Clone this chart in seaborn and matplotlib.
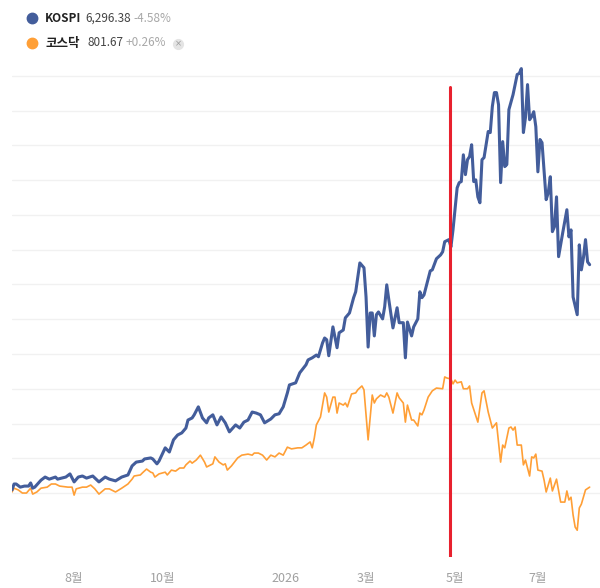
import pandas as pd
import matplotlib
matplotlib.use('Agg')
import matplotlib.pyplot as plt
import seaborn as sns

# trading-session index (0 = mid June 2025) and % change from the first session
kospi_session = [0, 1, 2, 4, 6, 8, 9, 10, 11, 14, 16, 18, 21, 22, 26, 28, 30, 32, 34, 36,
                 39, 42, 45, 47, 50, 53, 56, 58, 60, 63, 64, 67, 68, 70, 71, 74, 76, 78, 80, 82,
                 84, 85, 87, 88, 90, 92, 94, 95, 97, 99, 101, 103, 105, 108, 110, 112, 114, 116, 118, 120,
                 122, 125, 127, 129, 131, 133, 134, 137, 139, 142, 143, 145, 147, 148, 150, 151, 152, 153, 155, 157,
                 158, 160, 161, 163, 165, 166, 168, 170, 171, 172, 173, 174, 175, 176, 177, 179, 180, 181, 182, 184,
                 186, 187, 189, 190, 191, 193, 194, 196, 197, 198, 199, 200, 202, 203, 205, 207, 208, 209, 211, 212,
                 213, 215, 216, 217, 218, 219, 220, 221, 222, 223, 224, 225, 226, 227, 228, 230, 231, 232, 233, 234,
                 235, 236, 237, 238, 239, 240, 242, 244, 245, 246, 247, 248, 249, 250, 251, 252, 253, 254, 255, 256,
                 258, 259, 260, 261, 262, 263, 264, 266, 268, 269, 270, 271, 273, 274, 275, 276, 277, 278, 279]
kospi_change = [0.9, 2.6, 2.6, 1.7, 2.0, 2.0, 2.9, 1.4, 1.7, 3.7, 4.6, 4.0, 4.6, 4.0, 4.6, 5.5, 3.2, 4.6, 4.9, 4.3,
                4.9, 3.2, 4.6, 4.0, 3.5, 4.6, 5.2, 7.8, 8.9, 9.2, 9.8, 10.1, 9.8, 8.4, 9.2, 13.0, 11.8, 15.3, 16.7, 17.3,
                18.7, 21.0, 21.6, 22.5, 24.8, 21.6, 20.2, 21.6, 22.5, 19.6, 21.9, 20.2, 17.6, 19.6, 18.7, 20.4, 21.0, 23.3, 23.0, 22.5,
                20.2, 21.3, 22.5, 22.8, 24.8, 28.8, 31.1, 31.7, 34.6, 36.9, 38.3, 38.9, 39.7, 39.2, 43.2, 44.6, 44.1, 39.5, 47.8, 41.8,
                46.1, 46.9, 50.4, 51.8, 56.2, 57.9, 66.2, 64.8, 56.4, 42.0, 51.8, 51.8, 45.2, 51.3, 52.1, 50.1, 53.6, 59.9, 55.6, 47.5,
                53.3, 49.0, 49.0, 38.9, 49.2, 45.2, 47.8, 50.1, 57.9, 56.2, 57.0, 59.3, 63.9, 64.2, 67.4, 68.5, 69.4, 72.3, 72.9, 70.8,
                75.7, 87.8, 89.3, 89.6, 97.3, 91.6, 95.9, 96.8, 100.2, 89.6, 90.1, 85.2, 83.5, 95.9, 96.5, 104.0, 103.7, 111.2, 115.2, 115.2,
                111.7, 89.3, 101.1, 93.9, 94.5, 110.3, 114.6, 120.4, 120.7, 122.1, 103.7, 108.0, 117.5, 107.4, 108.3, 109.7, 105.4, 92.4, 101.7, 100.8,
                84.4, 86.4, 91.0, 75.2, 76.6, 85.2, 68.0, 74.9, 81.5, 73.7, 75.7, 56.4, 51.3, 71.4, 64.2, 67.7, 72.9, 66.5, 65.7]

kosdaq_session = [0, 1, 3, 5, 7, 9, 10, 12, 14, 17, 19, 21, 23, 27, 29, 30, 31, 34, 36, 38,
                  40, 42, 45, 47, 50, 53, 56, 58, 59, 62, 63, 65, 67, 68, 69, 71, 74, 75, 77, 79,
                  81, 83, 84, 86, 87, 89, 91, 93, 94, 97, 98, 100, 102, 103, 104, 106, 109, 111, 114, 116,
                  117, 119, 121, 123, 125, 127, 129, 131, 133, 135, 138, 140, 142, 144, 145, 146, 147, 149, 151, 152,
                  153, 155, 156, 157, 158, 160, 161, 162, 164, 166, 167, 169, 170, 172, 173, 174, 175, 176, 178, 180,
                  181, 182, 184, 186, 187, 189, 190, 191, 193, 194, 196, 197, 198, 199, 201, 203, 205, 208, 209, 210,
                  212, 213, 214, 215, 217, 218, 220, 221, 222, 225, 227, 228, 230, 232, 234, 236, 237, 238, 240, 241,
                  242, 243, 244, 246, 247, 248, 250, 251, 252, 253, 254, 256, 257, 258, 260, 261, 263, 265, 267, 268,
                  269, 270, 271, 272, 273, 274, 275, 277, 279]
kosdaq_change = [0.3, 1.4, 0.9, 0.0, 0.0, 1.4, -0.3, 0.3, 1.4, 1.7, 2.6, 2.6, 2.0, 1.7, 1.7, -0.6, 1.2, 1.7, 1.7, 2.3,
                 1.2, -0.3, 1.2, 1.2, 0.3, 1.4, 2.6, 4.0, 4.9, 5.2, 5.8, 6.9, 6.0, 5.8, 4.6, 5.5, 6.0, 5.2, 6.6, 6.3,
                 7.2, 7.2, 8.1, 9.2, 8.6, 9.5, 10.9, 8.9, 7.5, 8.4, 10.4, 8.9, 8.1, 8.4, 6.6, 7.8, 10.1, 10.9, 11.2, 10.9,
                 11.5, 11.5, 10.9, 9.5, 10.9, 10.4, 11.5, 10.9, 13.2, 12.7, 13.0, 13.0, 13.8, 14.7, 13.0, 15.8, 19.6, 21.9, 28.8, 27.6,
                 23.3, 27.6, 27.6, 23.0, 25.9, 25.3, 25.9, 24.8, 28.5, 28.8, 29.7, 30.8, 29.7, 15.3, 21.9, 28.2, 25.9, 27.1, 28.2, 27.6,
                 28.8, 27.6, 23.0, 28.8, 27.4, 25.9, 20.4, 25.3, 21.0, 21.0, 19.3, 23.0, 22.5, 23.9, 27.6, 29.4, 30.2, 30.0, 33.4, 33.1,
                 32.8, 31.4, 32.5, 31.7, 32.0, 30.0, 30.0, 30.8, 25.9, 20.4, 28.8, 29.4, 23.3, 18.7, 20.2, 8.9, 13.8, 13.0, 18.7, 19.0,
                 18.1, 19.0, 13.8, 13.8, 8.1, 9.5, 4.9, 10.4, 10.1, 11.2, 6.6, 6.3, 3.7, 0.3, 4.3, 0.6, 4.0, -2.6, -2.6, 0.6,
                 -2.0, -1.2, -6.3, -9.8, -10.7, -4.3, -3.2, 0.9, 1.7]

tick_sessions = [30, 73, 132, 171, 214, 254]
tick_labels = ['8월', '10월', '2026', '3월', '5월', '7월']
marker_session = 211.6

legend_rows = [
    ('KOSPI', '6,296.38', '-4.58%', '#435d9b'),
    ('코스닥', '801.67', '+0.26%', '#ff9f36'),
]

sns.set_theme(style='white')
plt.rcParams['font.family'] = ['Noto Sans CJK KR', 'DejaVu Sans']

kospi = pd.DataFrame({'session': kospi_session, 'change': kospi_change})
kosdaq = pd.DataFrame({'session': kosdaq_session, 'change': kosdaq_change})

fig = plt.figure(figsize=(6.0, 5.88), dpi=100)
W, H = 600, 588
ax = fig.add_axes([12 / W, 1 - 557 / H, 1 - 12 / W, (557 - 62) / H])

sns.lineplot(data=kosdaq, x='session', y='change', ax=ax, color='#ff9f36', linewidth=1.2)
sns.lineplot(data=kospi, x='session', y='change', ax=ax, color='#435d9b', linewidth=2.2)
ax.axvline(marker_session, ymin=0, ymax=(557 - 87) / (557 - 62), color='#e8212e', linewidth=2.2, zorder=5)

ax.set_xlim(0, 284)
ax.set_ylim(-18.4, 124.0)
ax.set_yticks(range(0, 121, 10))
ax.set_yticklabels([])
ax.yaxis.grid(True, color='#f1f1f1', linewidth=1)
ax.xaxis.grid(False)
ax.set_xticks(tick_sessions)
ax.set_xticklabels(tick_labels)
ax.tick_params(axis='x', length=0, pad=11, labelsize=9, labelcolor='#a0a0a0')
ax.tick_params(axis='y', length=0)
ax.set_xlabel('')
ax.set_ylabel('')
for s in ax.spines.values():
    s.set_visible(False)

# legend header
row_y = [18, 43]
for (name, value, pct, color), py in zip(legend_rows, row_y):
    fy = 1 - py / H
    fig.add_artist(plt.Line2D([32 / W], [fy], marker='o', markersize=7.5, color=color,
                              transform=fig.transFigure))
    name_size = 8.5 if name == 'KOSPI' else 9
    fig.text(45 / W, fy, name, fontsize=name_size, fontweight='bold', color='#222222', va='center')
    vx = 85 if name == 'KOSPI' else 87
    px = 133 if name == 'KOSPI' else 126
    fig.text(vx / W, fy, value, fontsize=8.5, color='#444444', va='center')
    fig.text(px / W, fy, pct, fontsize=8.5, color='#a8a8a8', va='center')

fy = 1 - 44 / H
fig.add_artist(plt.Line2D([178 / W], [fy], marker='o', markersize=7, color='#e4e4e4',
                          transform=fig.transFigure))
fig.text(178 / W, fy, '×', fontsize=6, color='#9a9a9a', ha='center', va='center',
         family=['DejaVu Sans'])

fig.savefig('out.png', dpi=100)
